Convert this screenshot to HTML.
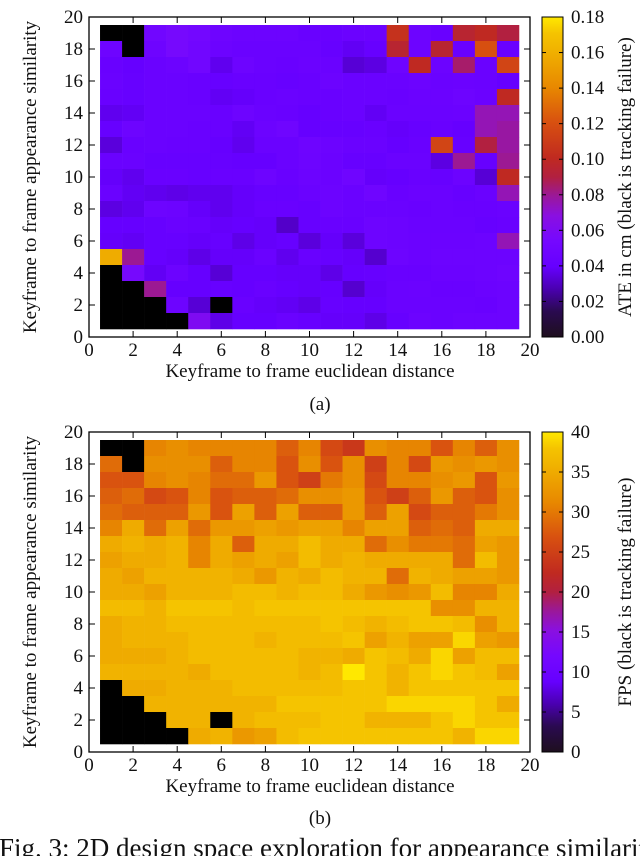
<!DOCTYPE html>
<html><head><meta charset="utf-8">
<style>
html,body{margin:0;padding:0;background:#fff;width:640px;height:856px;overflow:hidden}
svg{display:block}
text{font-family:"Liberation Serif",serif;fill:#111}
</style></head>
<body>
<svg id="chart" width="640" height="856" viewBox="0 0 640 856" xmlns="http://www.w3.org/2000/svg">
<defs>
<linearGradient id="cmap" x1="0" y1="1" x2="0" y2="0">
<stop offset="0" stop-color="#1e0f1e"/>
<stop offset="0.08" stop-color="#2a0a50"/>
<stop offset="0.15" stop-color="#4a00b0"/>
<stop offset="0.22" stop-color="#6600ff"/>
<stop offset="0.3" stop-color="#7508ff"/>
<stop offset="0.38" stop-color="#8a10e0"/>
<stop offset="0.44" stop-color="#9a189a"/>
<stop offset="0.5" stop-color="#b22040"/>
<stop offset="0.56" stop-color="#c02a20"/>
<stop offset="0.67" stop-color="#d85010"/>
<stop offset="0.78" stop-color="#e88800"/>
<stop offset="0.89" stop-color="#f0b000"/>
<stop offset="0.95" stop-color="#f5c400"/>
<stop offset="1" stop-color="#ffe800"/>
</linearGradient>
</defs>
<g id="plotA"></g>
<g id="plotB"></g>
<text x="320" y="410" text-anchor="middle" font-size="19">(a)</text>
<text x="320" y="824" text-anchor="middle" font-size="19">(b)</text>
<text x="-1" y="857" font-size="27">Fig. 3: 2D design space exploration for appearance similarity</text>
</svg>
<script>
// shared axis categories
const xCats = [1,2,3,4,5,6,7,8,9,10,11,12,13,14,15,16,17,18,19];
const yCats = [19,18,17,16,15,14,13,12,11,10,9,8,7,6,5,4,3,2,1];
const axisTicks = ["0","2","4","6","8","10","12","14","16","18","20"];
const ateTicks = ["0.00","0.02","0.04","0.06","0.08","0.10","0.12","0.14","0.16","0.18"];
const fpsTicks = ["0","5","10","15","20","25","30","35","40"];
const N = null;
// ATE values (cm), rows from y=19 down to y=1; null = tracking failure
const ateValues = [
[N,N,.05,.055,.052,.047,.045,.045,.045,.042,.042,.044,.044,.105,.046,.042,.095,.10,.09],
[.047,N,.047,.055,.05,.045,.043,.043,.043,.043,.041,.038,.041,.095,.046,.095,.042,.12,.042],
[.042,.04,.043,.045,.05,.037,.046,.043,.042,.044,.043,.033,.035,.047,.10,.045,.085,.043,.115],
[.043,.041,.043,.043,.042,.041,.042,.042,.041,.042,.045,.043,.043,.043,.045,.043,.044,.043,.04],
[.042,.041,.043,.043,.042,.038,.039,.042,.043,.042,.042,.043,.043,.042,.044,.044,.046,.044,.10],
[.037,.038,.043,.043,.043,.042,.046,.043,.042,.04,.042,.043,.038,.043,.043,.043,.044,.075,.075],
[.041,.046,.043,.043,.042,.042,.038,.045,.048,.04,.041,.041,.042,.039,.041,.042,.04,.075,.078],
[.034,.042,.043,.042,.042,.04,.037,.043,.043,.047,.045,.043,.043,.04,.042,.115,.041,.09,.078],
[.043,.043,.041,.041,.041,.041,.04,.04,.043,.046,.044,.041,.041,.043,.043,.035,.08,.041,.08],
[.039,.037,.042,.042,.041,.042,.042,.046,.042,.045,.044,.048,.039,.04,.042,.041,.045,.033,.10],
[.043,.038,.037,.036,.037,.037,.039,.041,.041,.043,.045,.043,.048,.042,.044,.043,.041,.043,.075],
[.035,.037,.046,.045,.039,.037,.039,.042,.042,.041,.045,.043,.043,.043,.042,.043,.042,.042,.043],
[.04,.04,.041,.043,.042,.039,.04,.039,.031,.041,.042,.042,.046,.045,.043,.043,.043,.041,.042],
[.039,.038,.041,.041,.039,.041,.036,.039,.041,.034,.039,.034,.046,.045,.044,.044,.044,.045,.075],
[.158,.08,.041,.039,.036,.039,.039,.043,.037,.042,.041,.039,.032,.046,.044,.045,.045,.045,.045],
[N,.055,.038,.045,.04,.033,.04,.04,.039,.039,.036,.04,.041,.042,.042,.044,.044,.045,.047],
[N,N,.08,.04,.04,.041,.04,.042,.04,.039,.04,.032,.039,.043,.044,.042,.042,.044,.045],
[N,N,N,.046,.033,N,.042,.039,.038,.036,.041,.04,.04,.043,.043,.043,.043,.042,.045],
[N,N,N,N,.06,.036,.04,.04,.043,.041,.039,.039,.036,.041,.045,.043,.045,.045,.045]
];
// FPS values, rows from y=19 down to y=1; null = tracking failure
const fpsValues = [
[N,N,31,32,31,31,31,31,28,31,26,24,32,31,31,27,31,28,32],
[29,N,32,32,32,28,31,31,27,32,27,32,25,31,26,33,32,33,32],
[27,27,31,32,31,29,29,33,27,25,30,32,26,31,31,32,33,27,33],
[28,29,26,27,31,27,28,28,29,32,32,33,27,25,28,33,28,27,32],
[29,28,28,28,33,27,34,28,34,28,28,33,28,34,26,28,28,30,32],
[31,35,29,34,29,33,33,34,33,34,34,31,34,34,28,29,28,35,35],
[35,36,35,36,31,35,28,35,35,37,35,35,29,32,30,30,29,34,33],
[34,35,35,36,31,35,34,35,34,37,35,36,35,35,35,35,29,37,33],
[35,34,36,36,36,36,35,33,36,35,37,36,36,29,36,35,34,34,33],
[35,35,34,36,36,36,37,37,36,37,37,35,33,32,33,37,31,31,35],
[37,37,36,38,38,38,37,38,38,38,38,38,38,38,38,32,32,36,36],
[35,36,36,37,37,37,37,37,37,37,38,37,36,37,38,38,37,32,36],
[35,36,36,36,37,37,37,36,37,37,37,38,34,36,34,34,39,34,33],
[35,35,35,36,37,37,37,37,37,36,36,35,38,37,35,39,34,37,37],
[36,36,36,36,35,37,37,37,37,36,37,40,38,36,38,39,38,37,34],
[N,35,35,36,36,36,37,37,37,37,37,38,38,36,38,38,38,38,38],
[N,N,36,36,36,36,36,36,38,38,38,38,38,39,39,39,39,38,35],
[N,N,N,36,36,N,36,37,37,37,38,38,36,36,36,38,39,38,38],
[N,N,N,N,35,36,33,34,37,38,38,38,38,38,38,38,36,39,39]
];

const stops=[[0,"#1e0f1e"],[.08,"#2a0a50"],[.15,"#4a00b0"],[.22,"#6600ff"],[.3,"#7508ff"],[.38,"#8a10e0"],[.44,"#9a189a"],[.5,"#b22040"],[.56,"#c02a20"],[.67,"#d85010"],[.78,"#e88800"],[.89,"#f0b000"],[.95,"#f5c400"],[1,"#ffe800"]];
function hex(h){return [1,3,5].map(i=>parseInt(h.substr(i,2),16));}
function cmap(t){
  t=Math.max(0,Math.min(1,t));
  for(let i=1;i<stops.length;i++){
    if(t<=stops[i][0]){
      const a=stops[i-1],b=stops[i],f=(t-a[0])/(b[0]-a[0]);
      const ca=hex(a[1]),cb=hex(b[1]);
      return "rgb("+ca.map((c,k)=>Math.round(c+(cb[k]-c)*f)).join(",")+")";
    }
  }
  return stops[stops.length-1][1];
}
const NS="http://www.w3.org/2000/svg";
function mk(parent,tag,attrs){const e=document.createElementNS(NS,tag);for(const k in attrs)e.setAttribute(k,attrs[k]);parent.appendChild(e);return e;}

function drawPlot(g,top,values,vmax,cbTicks,cbTitle,prefix){
  const L=89,R=530,T=top,B=top+320;
  const xs=v=>L+v*(R-L)/20;
  const ys=v=>B-v*(B-T)/20;
  values.forEach((row,ri)=>{
    row.forEach((v,ci)=>{
      const cx=xCats[ci],cy=yCats[ri];
      const r=mk(g,"rect",{x:xs(cx-0.5),y:ys(cy+0.5),width:xs(cx+0.5)-xs(cx-0.5)+0.3,height:ys(cy-0.5)-ys(cy+0.5)+0.3,fill:v===null?"#000":cmap(v/vmax)});
      
      
    });
  });
  const fr=mk(g,"rect",{x:L,y:T,width:R-L,height:B-T,fill:"none",stroke:"#000","stroke-width":1.3});
  
  
  axisTicks.forEach((lab,i)=>{
    const v=i*2,x=xs(v),y=ys(v);
    mk(g,"line",{x1:x,y1:B,x2:x,y2:B-6,stroke:"#000"});
    mk(g,"line",{x1:x,y1:T,x2:x,y2:T+6,stroke:"#000"});
    mk(g,"line",{x1:L,y1:y,x2:L+6,y2:y,stroke:"#000"});
    mk(g,"line",{x1:R,y1:y,x2:R-6,y2:y,stroke:"#000"});
    const tx=mk(g,"text",{x:x,y:B+19,"text-anchor":"middle","font-size":19});
    tx.textContent=lab;
    
    
    const ty=mk(g,"text",{x:L-6,y:y+6,"text-anchor":"end","font-size":19});
    ty.textContent=lab;
    
    
  });
  const xt=mk(g,"text",{x:310,y:B+40,"text-anchor":"middle","font-size":19});
  xt.textContent="Keyframe to frame euclidean distance";
  
  
  const yt=mk(g,"text",{x:0,y:0,"text-anchor":"middle","font-size":19,transform:"translate(36,"+(T+160)+") rotate(-90)"});
  yt.textContent="Keyframe to frame appearance similarity";
  
  
  const cL=542,cR=563;
  const cb=mk(g,"rect",{x:cL,y:T,width:cR-cL,height:B-T,fill:"url(#cmap)",stroke:"#000","stroke-width":1});
  
  
  const n=cbTicks.length-1;
  cbTicks.forEach((lab,i)=>{
    const y=B-i*(B-T)/n;
    mk(g,"line",{x1:cL,y1:y,x2:cL+4,y2:y,stroke:"#000"});
    mk(g,"line",{x1:cR,y1:y,x2:cR-4,y2:y,stroke:"#000"});
    const t=mk(g,"text",{x:571,y:y+6,"font-size":19});
    t.textContent=lab;
    
    
  });
  const ct=mk(g,"text",{x:0,y:0,"text-anchor":"middle","font-size":19,transform:"translate(631,"+(T+160)+") rotate(-90)"});
  ct.textContent=cbTitle;
  
  
}
drawPlot(document.getElementById("plotA"),17,ateValues,0.18,ateTicks,"ATE in cm (black is tracking failure)","ate");
drawPlot(document.getElementById("plotB"),432,fpsValues,40,fpsTicks,"FPS (black is tracking failure)","fps");
</script>
</body></html>
